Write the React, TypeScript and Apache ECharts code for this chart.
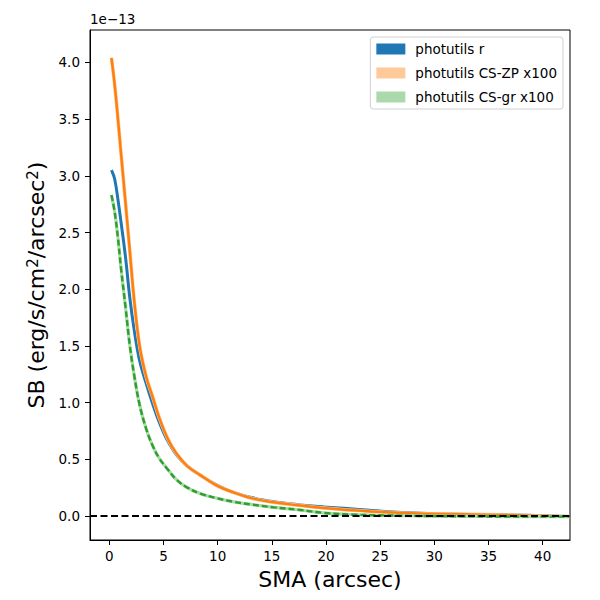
import React, { useEffect, useRef } from "react";
import * as echarts from "echarts";

// SMA (arcsec)
const SMA = [0.2, 0.5, 0.8, 1.1, 1.5, 1.9, 2.3, 2.8, 3.4, 4.0, 4.6, 5.4, 6.2, 7.2, 8.4, 9.8, 11.4, 13.2, 15.2, 17.4, 19.8, 22.5, 25.5, 28.8, 32.5, 36.6, 42.5];
// SB in units of 1e-13 erg/s/cm^2/arcsec^2
const SB_R = [3.05, 2.97, 2.79, 2.58, 2.28, 1.92, 1.64, 1.37, 1.17, 0.99, 0.83, 0.66, 0.54, 0.44, 0.36, 0.28, 0.21, 0.16, 0.125, 0.1, 0.08, 0.062, 0.04, 0.025, 0.015, 0.01, -0.005];
const SB_ZP = [4.04, 3.8, 3.5, 3.18, 2.76, 2.33, 1.9, 1.5, 1.23, 1.05, 0.87, 0.68, 0.55, 0.44, 0.36, 0.275, 0.21, 0.155, 0.12, 0.095, 0.07, 0.05, 0.033, 0.022, 0.015, 0.008, -0.005];
const SB_GR = [2.83, 2.68, 2.45, 2.17, 1.84, 1.5, 1.24, 0.98, 0.77, 0.62, 0.51, 0.41, 0.32, 0.25, 0.197, 0.16, 0.126, 0.1, 0.076, 0.055, 0.027, 0.012, 0.005, 0.0, -0.003, -0.005, -0.006];

const X_TICKS = [0, 5, 10, 15, 20, 25, 30, 35, 40];
const Y_TICKS = [0, 0.5, 1.0, 1.5, 2.0, 2.5, 3.0, 3.5, 4.0];

const NAME_R = "photutils r";
const NAME_ZP = "photutils CS-ZP x100";
const NAME_GR = "photutils CS-gr x100";

const FONT = "DejaVu Sans";

function pairs(ys: number[]) {
  return SMA.map((x, i) => [x, ys[i]]);
}

export default function App() {
  const ref = useRef<HTMLDivElement>(null);
  useEffect(() => {
    if (!ref.current) return;
    const chart = echarts.init(ref.current, null, { renderer: "svg" });
    const common = {
      type: "line",
      showSymbol: false,
      symbol: "none",
      smooth: 0.4,
      silent: true,
    };
    chart.setOption({
      animation: false,
      backgroundColor: "#ffffff",
      textStyle: { fontFamily: FONT },
      grid: {
        left: 90,
        right: 30,
        top: 30,
        bottom: 60,
        show: true,
        borderColor: "#000",
        borderWidth: 1,
        backgroundColor: "transparent",
      },
      legend: {
        orient: "vertical",
        right: 37,
        top: 37,
        icon: "rect",
        itemWidth: 29,
        itemHeight: 11,
        itemGap: 10,
        padding: [5, 6, 5, 6],
        backgroundColor: "#ffffff",
        borderColor: "#d0d0d0",
        borderWidth: 1,
        borderRadius: 3,
        textStyle: { fontFamily: FONT, fontSize: 13.5, color: "#000", padding: [0, 0, 0, 5] },
        itemStyle: { borderWidth: 0 },
        selectedMode: false,
        data: [
          { name: NAME_R, itemStyle: { color: "#1f77b4" } },
          { name: NAME_ZP, itemStyle: { color: "#ffc999" } },
          { name: NAME_GR, itemStyle: { color: "#abd9ab" } },
        ],
      },
      graphic: [
        {
          type: "text",
          left: 90,
          top: 12,
          style: { text: "1e\u221213", fontFamily: FONT, fontSize: 13.5, fill: "#000" },
        },
      ],
      xAxis: {
        type: "value",
        min: -1.78,
        max: 42.52,
        name: "SMA (arcsec)",
        nameLocation: "middle",
        nameGap: 28,
        nameTextStyle: { fontFamily: FONT, fontSize: 22, color: "#000" },
        axisLine: { show: true, onZero: false, lineStyle: { color: "#000", width: 1 } },
        axisTick: { show: true, inside: false, length: 5, lineStyle: { color: "#000" }, customValues: X_TICKS },
        axisLabel: { show: true, margin: 9, fontFamily: FONT, fontSize: 13.5, color: "#000", customValues: X_TICKS },
        splitLine: { show: false },
      },
      yAxis: {
        type: "value",
        min: -0.212,
        max: 4.286,
        name: "SB (erg/s/cm{sup|2}/arcsec{sup|2})",
        nameLocation: "middle",
        nameGap: 40,
        nameTextStyle: {
          fontFamily: FONT,
          fontSize: 22,
          color: "#000",
          rich: {
            sup: { fontFamily: FONT, fontSize: 15, color: "#000", verticalAlign: "top", padding: [0, 0, 6, 0] },
          },
        },
        axisLine: { show: true, onZero: false, lineStyle: { color: "#000", width: 1 } },
        axisTick: { show: true, inside: false, length: 5, lineStyle: { color: "#000" }, customValues: Y_TICKS },
        axisLabel: {
          show: true,
          margin: 10,
          fontFamily: FONT,
          fontSize: 13.5,
          color: "#000",
          customValues: Y_TICKS,
          formatter: (v: number) => v.toFixed(1),
        },
        splitLine: { show: false },
      },
      series: [
        {
          ...common,
          name: NAME_R,
          data: pairs(SB_R),
          itemStyle: { color: "#1f77b4" },
          lineStyle: { color: "#1f77b4", width: 3 },
          markLine: {
            silent: true,
            symbol: "none",
            label: { show: false },
            lineStyle: { color: "#000", type: [7, 3.5], width: 1.9, opacity: 1 },
            emphasis: { disabled: true },
            data: [{ yAxis: 0 }],
            z: 10,
          },
        },
        {
          ...common,
          name: NAME_ZP,
          data: pairs(SB_ZP),
          itemStyle: { color: "#ffc999" },
          lineStyle: { color: "#ffc999", width: 3.6 },
        },
        {
          ...common,
          name: "zp-line",
          data: pairs(SB_ZP),
          itemStyle: { color: "#ff7f0e" },
          lineStyle: { color: "#ff7f0e", width: 2.5 },
        },
        {
          ...common,
          name: NAME_GR,
          data: pairs(SB_GR),
          itemStyle: { color: "#abd9ab" },
          lineStyle: { color: "#abd9ab", width: 3.2 },
        },
        {
          ...common,
          name: "gr-line",
          data: pairs(SB_GR),
          itemStyle: { color: "#2ca02c" },
          lineStyle: { color: "#2ca02c", width: 2.4, type: [6, 3] },
        },
      ],
    });
    return () => chart.dispose();
  }, []);
  return <div ref={ref} style={{ position: "fixed", left: 0, top: 0, width: 600, height: 600 }} />;
}
